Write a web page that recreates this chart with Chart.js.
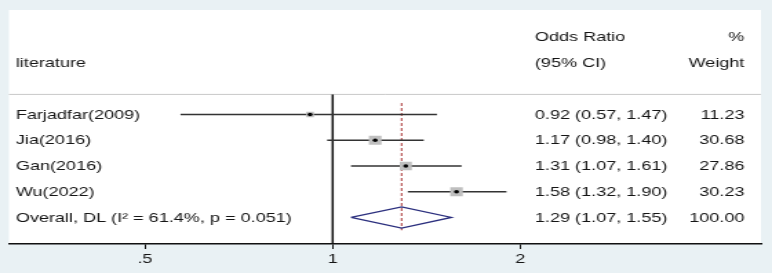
<!DOCTYPE html>
<html>
<head>
<meta charset="utf-8">
<script src="https://cdn.jsdelivr.net/npm/chart.js@4.4.0/dist/chart.umd.min.js"></script>
<style>
  html, body { margin: 0; padding: 0; background: #e9f1f4; }
  /* the original plot is stretched sideways, so the canvas is drawn narrow and widened by css */
  #forest { display: block; width: 772px !important; height: 273px !important; }
</style>
</head>
<body>
<canvas id="forest" width="560" height="273" style="width:772px;height:273px"></canvas>
<script>
// study rows
var studies = ["Farjadfar(2009)", "Jia(2016)", "Gan(2016)", "Wu(2022)"];
var oddsRatio = [0.92, 1.17, 1.31, 1.58];
var lowerCI = [0.57, 0.98, 1.07, 1.32];
var upperCI = [1.47, 1.40, 1.61, 1.90];
var weights = [11.23, 30.68, 27.86, 30.23];

// pooled row: [estimate, lower, upper, weight]
var overallLabel = "Overall, DL (I\u00B2 = 61.4%, p = 0.051)";
var overall = [1.29, 1.07, 1.55, 100.00];

// axis
var xTicks = [0.5, 1, 2];
var xTickLabels = [".5", "1", "2"];

var FONT = "'Liberation Sans', Arial, sans-serif";
var TEXT = "#151515";
var overallRow = studies.length;

// ci whiskers, one line dataset per study
var ciSets = studies.map(function(s, i) {
    return {
        data: [{x: lowerCI[i], y: i}, {x: upperCI[i], y: i}],
        showLine: true, borderColor: "#333", borderWidth: 1.4,
        pointRadius: 0, order: 3
    };
});

var datasets = ciSets.concat([
    // no-effect line at OR = 1
    {
        data: [{x: 1, y: -0.78}, {x: 1, y: 5.03}],
        showLine: true, borderColor: "#111", borderWidth: 1.5, pointRadius: 0, order: 4
    },
    // pooled estimate, dashed
    {
        data: [{x: overall[0], y: -0.45}, {x: overall[0], y: 4.5}],
        showLine: true, borderColor: "#b04444", borderWidth: 1.1, borderDash: [3, 2],
        pointRadius: 0, order: 5
    },
    // weight squares
    {
        data: oddsRatio.map(function(v, i) { return {x: v, y: i}; }),
        pointStyle: "rect",
        pointRadius: weights.map(function(w) { return 1.65 * Math.sqrt(w) / Math.SQRT2; }),
        backgroundColor: "#bfbfbf", borderWidth: 0, order: 2
    },
    // point estimates
    {
        data: oddsRatio.map(function(v, i) { return {x: v, y: i}; }),
        pointRadius: 1.8, backgroundColor: "#000", borderWidth: 0, order: 1
    },
    // pooled diamond
    {
        data: [
            {x: overall[1], y: overallRow},
            {x: overall[0], y: overallRow - 0.41},
            {x: overall[2], y: overallRow},
            {x: overall[0], y: overallRow + 0.41},
            {x: overall[1], y: overallRow}
        ],
        showLine: true, borderColor: "#2b2f7e", borderWidth: 1.3, pointRadius: 0,
        tension: 0, fill: false, order: 0
    }
]);

function fmt(v) { return v.toFixed(2); }

var panelAndText = {
    id: "panelAndText",
    beforeDraw: function(chart) {
        var a = chart.chartArea, ctx = chart.ctx;
        ctx.save();
        ctx.fillStyle = "#fff";
        ctx.fillRect(a.left, a.top, a.right - a.left, a.bottom - a.top);
        // header separator
        var ys = chart.scales.y.getPixelForValue(-0.78);
        ctx.strokeStyle = "#c9c9c9";
        ctx.lineWidth = 1;
        ctx.beginPath();
        ctx.moveTo(a.left, ys);
        ctx.lineTo(a.right, ys);
        ctx.stroke();
        ctx.restore();
    },
    afterDraw: function(chart) {
        var a = chart.chartArea, ctx = chart.ctx, y = chart.scales.y;
        var colLabel = a.left + 5;
        var colOR = 388;
        var colW = a.right - 12;
        var size = 13.1;
        ctx.save();
        ctx.fillStyle = TEXT;
        ctx.textBaseline = "middle";

        function put(txt, x, row, align) {
            ctx.font = size + "px " + FONT;
            ctx.textAlign = align;
            ctx.fillText(txt, x, y.getPixelForValue(row) + 0.5);
        }

        put("Odds Ratio", colOR, -3, "left");
        put("(95% CI)", colOR, -2, "left");
        put("%", colW, -3, "right");
        put("Weight", colW, -2, "right");
        put("literature", colLabel, -2, "left");

        studies.forEach(function(s, i) {
            put(s, colLabel, i, "left");
            put(fmt(oddsRatio[i]) + " (" + fmt(lowerCI[i]) + ", " + fmt(upperCI[i]) + ")", colOR, i, "left");
            put(fmt(weights[i]), colW, i, "right");
        });
        put(overallLabel, colLabel, overallRow, "left");
        put(fmt(overall[0]) + " (" + fmt(overall[1]) + ", " + fmt(overall[2]) + ")", colOR, overallRow, "left");
        put(fmt(overall[3]), colW, overallRow, "right");
        ctx.restore();
    }
};

new Chart(document.getElementById("forest"), {
    type: "scatter",
    data: { datasets: datasets },
    options: {
        responsive: false,
        animation: false,
        devicePixelRatio: 1,
        layout: { padding: { left: 6, right: 8, top: 10, bottom: 0 } },
        plugins: { legend: { display: false }, tooltip: { enabled: false } },
        scales: {
            x: {
                type: "logarithmic",
                min: 0.3025,
                max: 4.864,
                bounds: "data",
                afterBuildTicks: function(scale) {
                    scale.ticks = xTicks.map(function(v) { return {value: v}; });
                },
                afterFit: function(scale) { scale.height = 29; },
                ticks: {
                    autoSkip: false,
                    maxRotation: 0,
                    padding: 3,
                    color: TEXT,
                    font: { family: FONT, size: 13.1 },
                    callback: function(v, i) { return xTickLabels[i]; }
                },
                grid: { drawOnChartArea: false, drawTicks: true, tickLength: 5, color: "#111", lineWidth: 1 },
                border: { display: true, color: "#111", width: 1.4 }
            },
            y: {
                type: "linear",
                min: -4.06,
                max: 5.03,
                reverse: true,
                display: false
            }
        }
    },
    plugins: [panelAndText]
});
</script>
</body>
</html>
